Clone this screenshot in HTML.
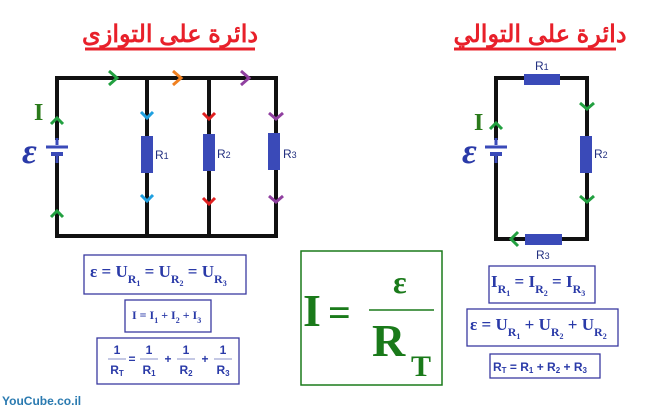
<!DOCTYPE html>
<html><head><meta charset="utf-8"><style>
body{margin:0;background:#fff;width:664px;height:411px;overflow:hidden}
svg{display:block}
.ar{font-family:"Liberation Sans","Noto Sans CJK SC",sans-serif;font-weight:bold;fill:#e8202a;font-size:24px}
.rl{font-family:"Liberation Sans",sans-serif;font-size:12px;fill:#233080}
.f{font-family:"Liberation Serif",serif;font-weight:bold;fill:#2a3aa8}
.fs{font-family:"Liberation Sans",sans-serif;font-weight:bold;fill:#2a3aa8}
.ep{font-family:"Liberation Serif",serif;font-style:italic;font-weight:bold;font-size:36px;fill:#2a3aa8}
</style></head><body>
<svg width="664" height="411" viewBox="0 0 664 411" xmlns="http://www.w3.org/2000/svg">
<text x="170" y="42" text-anchor="middle" class="ar" direction="rtl">دائرة على التوازى</text>
<line x1="85" y1="49" x2="255" y2="49" stroke="#e8202a" stroke-width="3"/>
<text x="540" y="42" text-anchor="middle" class="ar" direction="rtl">دائرة على التوالي</text>
<line x1="454" y1="49" x2="616" y2="49" stroke="#e8202a" stroke-width="3"/>

<g stroke="#111" stroke-width="4" fill="none">
<path d="M57 140 V78 H276 V236 H57 V156"/>
<line x1="147" y1="78" x2="147" y2="236"/>
<line x1="209" y1="78" x2="209" y2="236"/>
</g>
<line x1="46" y1="147" x2="68" y2="147" stroke="#3a4ab8" stroke-width="3"/>
<line x1="51" y1="154" x2="63" y2="154" stroke="#3a4ab8" stroke-width="4"/>
<line x1="57" y1="138" x2="57" y2="145" stroke="#3a4ab8" stroke-width="3"/>
<line x1="57" y1="156" x2="57" y2="163" stroke="#3a4ab8" stroke-width="3"/>
<text x="22" y="163" class="ep">ε</text>
<text x="34" y="120" font-family="Liberation Serif,serif" font-weight="bold" font-size="24" fill="#2a7a1a">I</text>
<rect x="141" y="136" width="12" height="37" fill="#3a4ab8"/>
<rect x="203" y="134" width="12" height="37" fill="#3a4ab8"/>
<rect x="268" y="133" width="12" height="37" fill="#3a4ab8"/>
<text x="155" y="159" class="rl">R<tspan font-size="9">1</tspan></text>
<text x="217" y="158" class="rl">R<tspan font-size="9">2</tspan></text>
<text x="283" y="158" class="rl">R<tspan font-size="9">3</tspan></text>
<g fill="none" stroke-width="3">
<polyline points="51,124 57,118 63,124" stroke="#22a040"/>
<polyline points="51,217 57,211 63,217" stroke="#22a040"/>
<polyline points="109,71 117,78 109,85" stroke="#22a040"/>
<polyline points="173,71 181,78 173,85" stroke="#f08020"/>
<polyline points="241,71 249,78 241,85" stroke="#9040a0"/>
<polyline points="141,112 147,118 153,112" stroke="#20a0e0"/>
<polyline points="141,195 147,201 153,195" stroke="#20a0e0"/>
<polyline points="203,113 209,119 215,113" stroke="#e02020"/>
<polyline points="203,198 209,204 215,198" stroke="#e02020"/>
<polyline points="269,113 276,119 283,113" stroke="#9040a0"/>
<polyline points="269,196 276,202 283,196" stroke="#9040a0"/>
</g>

<g stroke="#111" stroke-width="4" fill="none">
<path d="M496 140 V78 H587 V239 H496 V156"/>
</g>
<rect x="524" y="74" width="36" height="11" fill="#3a4ab8"/>
<rect x="580" y="136" width="12" height="37" fill="#3a4ab8"/>
<rect x="525" y="234" width="37" height="11" fill="#3a4ab8"/>
<line x1="485" y1="147" x2="507" y2="147" stroke="#3a4ab8" stroke-width="3"/>
<line x1="490" y1="154" x2="502" y2="154" stroke="#3a4ab8" stroke-width="4"/>
<line x1="496" y1="138" x2="496" y2="145" stroke="#3a4ab8" stroke-width="3"/>
<line x1="496" y1="156" x2="496" y2="163" stroke="#3a4ab8" stroke-width="3"/>
<text x="462" y="163" class="ep">ε</text>
<text x="474" y="130" font-family="Liberation Serif,serif" font-weight="bold" font-size="24" fill="#2a7a1a">I</text>
<text x="535" y="70" class="rl">R<tspan font-size="9">1</tspan></text>
<text x="594" y="158" class="rl">R<tspan font-size="9">2</tspan></text>
<text x="536" y="259" class="rl">R<tspan font-size="9">3</tspan></text>
<g fill="none" stroke-width="3" stroke="#22a040">
<polyline points="490,129 496,123 502,129"/>
<polyline points="580,103 587,109 594,103"/>
<polyline points="580,196 587,202 594,196"/>
<polyline points="518,232 511,239 518,246"/>
</g>

<rect x="301" y="251" width="141" height="134" fill="none" stroke="#1a7a1a" stroke-width="1.5"/>
<g font-family="Liberation Serif,serif" font-weight="bold" fill="#1a7a1a">
<text x="303" y="326" font-size="46">I</text>
<text x="328" y="326" font-size="40">=</text>
<text x="393" y="293" font-size="32">ε</text>
<text x="372" y="356" font-size="46">R</text>
<text x="411" y="376" font-size="30">T</text>
</g>
<line x1="369" y1="310" x2="434" y2="310" stroke="#1a7a1a" stroke-width="1.5"/>

<g fill="none" stroke="#3a3aa0" stroke-width="1.3">
<rect x="84" y="255" width="162" height="39"/>
<rect x="125" y="300" width="86" height="32"/>
<rect x="97" y="338" width="142" height="46"/>
<rect x="489" y="266" width="106" height="37"/>
<rect x="467" y="309" width="151" height="37"/>
<rect x="490" y="354" width="110" height="24"/>
</g>
<text x="90" y="277" class="f" font-size="17">ε = U<tspan font-size="12" dy="6">R</tspan><tspan font-size="8" dy="3">1</tspan><tspan dy="-9"> = U</tspan><tspan font-size="12" dy="6">R</tspan><tspan font-size="8" dy="3">2</tspan><tspan dy="-9"> = U</tspan><tspan font-size="12" dy="6">R</tspan><tspan font-size="8" dy="3">3</tspan></text>
<text x="132" y="319" class="f" font-size="12">I = I<tspan font-size="8" dy="4">1</tspan><tspan dy="-4"> + I</tspan><tspan font-size="8" dy="4">2</tspan><tspan dy="-4"> + I</tspan><tspan font-size="8" dy="4">3</tspan></text>
<g class="fs" font-size="12">
<text x="117" y="354" text-anchor="middle">1</text><text x="117" y="374" text-anchor="middle">R<tspan font-size="8" dy="2">T</tspan></text>
<text x="132" y="363" text-anchor="middle">=</text>
<text x="149" y="354" text-anchor="middle">1</text><text x="149" y="374" text-anchor="middle">R<tspan font-size="8" dy="2">1</tspan></text>
<text x="168" y="363" text-anchor="middle">+</text>
<text x="186" y="354" text-anchor="middle">1</text><text x="186" y="374" text-anchor="middle">R<tspan font-size="8" dy="2">2</tspan></text>
<text x="205" y="363" text-anchor="middle">+</text>
<text x="223" y="354" text-anchor="middle">1</text><text x="223" y="374" text-anchor="middle">R<tspan font-size="8" dy="2">3</tspan></text>
</g>
<g stroke="#8a90c8" stroke-width="1">
<line x1="108" y1="359" x2="126" y2="359"/><line x1="140" y1="359" x2="158" y2="359"/>
<line x1="177" y1="359" x2="195" y2="359"/><line x1="214" y1="359" x2="232" y2="359"/>
</g>

<text x="491" y="287" class="f" font-size="17">I<tspan font-size="12" dy="6">R</tspan><tspan font-size="8" dy="3">1</tspan><tspan dy="-9"> = I</tspan><tspan font-size="12" dy="6">R</tspan><tspan font-size="8" dy="3">2</tspan><tspan dy="-9"> = I</tspan><tspan font-size="12" dy="6">R</tspan><tspan font-size="8" dy="3">3</tspan></text>
<text x="470" y="330" class="f" font-size="17">ε = U<tspan font-size="12" dy="6">R</tspan><tspan font-size="8" dy="3">1</tspan><tspan dy="-9"> + U</tspan><tspan font-size="12" dy="6">R</tspan><tspan font-size="8" dy="3">2</tspan><tspan dy="-9"> + U</tspan><tspan font-size="12" dy="6">R</tspan><tspan font-size="8" dy="3">2</tspan></text>
<text x="493" y="371" class="fs" font-size="12">R<tspan font-size="8" dy="2">T</tspan><tspan dy="-2"> = R</tspan><tspan font-size="8" dy="2">1</tspan><tspan dy="-2"> + R</tspan><tspan font-size="8" dy="2">2</tspan><tspan dy="-2"> + R</tspan><tspan font-size="8" dy="2">3</tspan></text>

<text x="2" y="405" font-family="Liberation Sans,sans-serif" font-weight="bold" font-size="12" fill="#2a7ab0">YouCube.co.il</text>
</svg>
</body></html>
